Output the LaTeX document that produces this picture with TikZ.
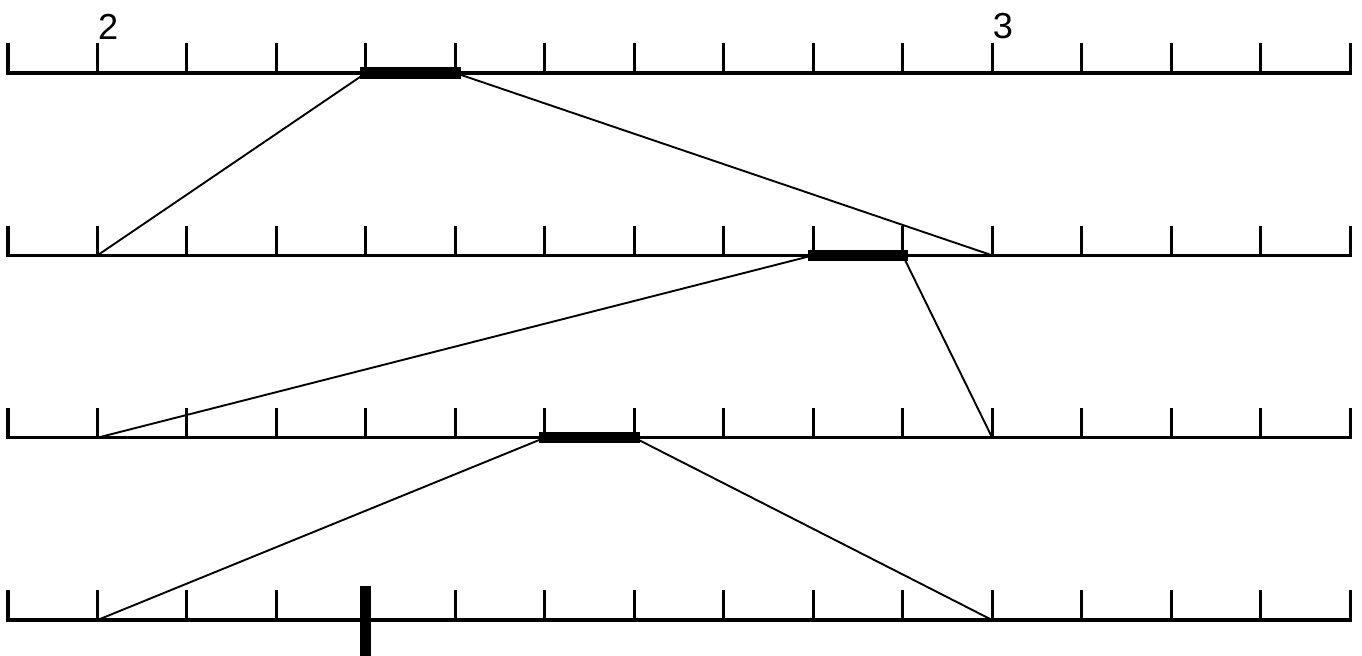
\documentclass[tikz,border=0pt]{standalone}
\usepackage{fontspec}
\setmainfont{Liberation Sans}
\usetikzlibrary{positioning}

\tikzset{
  axis/.style={line width=1pt, line cap=rect},
  bar/.style={line width=3.6pt, line cap=rect},
  link/.style={line width=0.6pt},
  digit/.style={inner sep=0pt, font=\fontsize{11.5}{11.5}\selectfont}
}

\begin{document}
\begin{tikzpicture}
                \useasboundingbox (-0.089,-6.505) rectangle (15.133,0.816);
                % four copies of the scale, one per step
                \foreach \r in {1,...,4} {
                  \foreach \i in {0,...,15}
                    \coordinate (t\r-\i) at (\i, {-(\r-1)*2.038});
                  \draw[axis] (t\r-0) -- (t\r-15);
                  \foreach \i in {0,...,15}
                    \draw[axis] (t\r-\i) -- ++(0,0.313);
                }
                
                \node[digit, above right=0.37cm and 0cm of t1-1] (lab2) {2};
                \node[digit, above right=0.37cm and 0cm of t1-11] (lab3) {3};
                
                % chosen tenth on each row, mapped to the whole interval below
                \draw[bar] (t1-4) -- (t1-5);
                \draw[link] (t1-4) -- (t2-1);
                \draw[link] (t1-5) -- (t2-11);
                
                \draw[bar] (t2-9) -- (t2-10);
                \draw[link] (t2-9) -- (t3-1);
                \draw[link] (t2-10) -- (t3-11);
                
                \draw[bar] (t3-6) -- (t3-7);
                \draw[link] (t3-6) -- (t4-1);
                \draw[link] (t3-7) -- (t4-11);
                
                \draw[line width=3.5pt] ([yshift=0.38cm]t4-4) -- ([yshift=-0.40cm]t4-4);
            \end{tikzpicture}
\end{document}
